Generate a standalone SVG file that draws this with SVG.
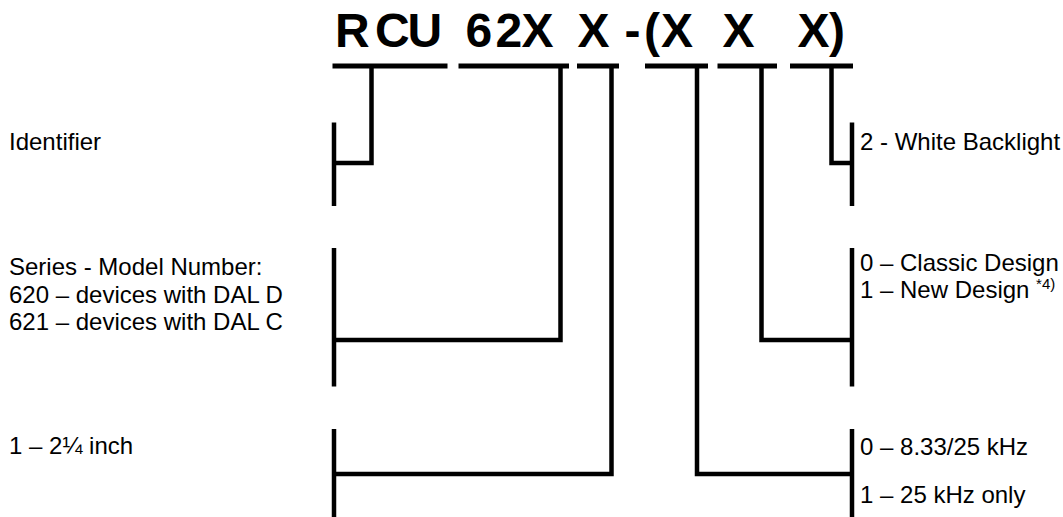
<svg xmlns="http://www.w3.org/2000/svg" width="1063" height="517" viewBox="0 0 1063 517">
<style>
.t{font-family:"Liberation Sans",Arial,sans-serif;font-size:24px;fill:#000}
.sup{font-size:15px}
.title{font-family:"Liberation Sans",Arial,sans-serif;font-size:48px;font-weight:bold;fill:#000}
.ln{fill:none;stroke:#000;stroke-width:4.5;stroke-linejoin:miter;stroke-linecap:butt}
.ul{fill:none;stroke:#000;stroke-width:5}
</style>
<rect width="1063" height="517" fill="#fff"/>
<g id="title">
<text class="title" y="47" x="335 375 407.5 440 465.5 495.5 521.5 555 577.5 610 624.5 644 661 694 722.5 756 797.5 829">RCU 62X X -(X X X)</text>
<path class="ul" d="M332.5,66H447.5M458.5,66H569M577,66H619M645,66H708M717.5,66H777M790,66H853"/>
</g>
<g id="connectors">
<path class="ln" d="M371.5,66V163H334"/>
<path class="ln" d="M560.5,66V340H334"/>
<path class="ln" d="M611.5,66V474H334"/>
<path class="ln" d="M697,66V474H852"/>
<path class="ln" d="M761.5,66V340H852"/>
<path class="ln" d="M831.5,66V163H852"/>
</g>
<g id="identifier">
<path class="ln" d="M334,122.5V206"/>
<text class="t" x="9" y="150">Identifier</text>
</g>
<g id="series">
<path class="ln" d="M334,248V386.5"/>
<text class="t" x="9" y="275">Series - Model Number:</text>
<text class="t" x="9" y="302.5">620 – devices with DAL D</text>
<text class="t" x="9" y="330">621 – devices with DAL C</text>
</g>
<g id="size">
<path class="ln" d="M334,429V517"/>
<text class="t" x="9" y="454">1 – 2¼ inch</text>
</g>
<g id="backlight">
<path class="ln" d="M852,122.5V206"/>
<text class="t" x="860" y="150">2 - White Backlight</text>
</g>
<g id="design">
<path class="ln" d="M852,248V386.5"/>
<text class="t" x="860" y="271">0 – Classic Design</text>
<text class="t" x="860" y="298">1 – New Design <tspan class="sup" dy="-9">*4)</tspan></text>
</g>
<g id="frequency">
<path class="ln" d="M852,429V517"/>
<text class="t" x="860" y="455">0 – 8.33/25 kHz</text>
<text class="t" x="860" y="503">1 – 25 kHz only</text>
</g>
</svg>
